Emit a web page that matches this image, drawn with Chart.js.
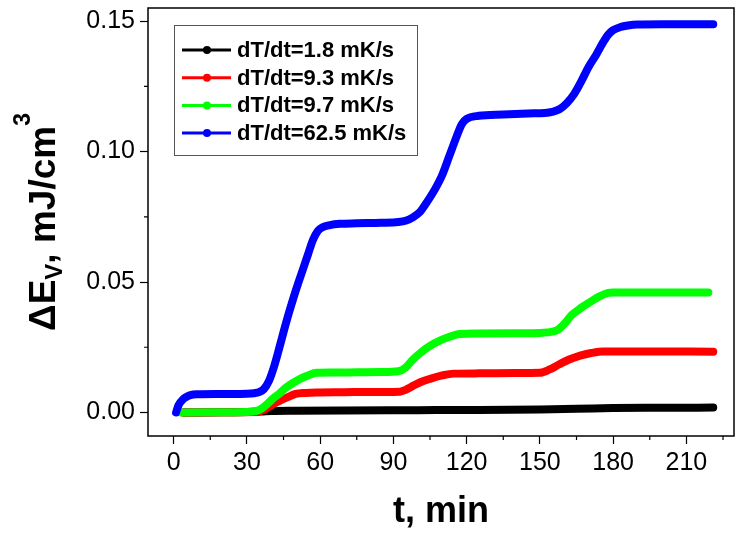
<!DOCTYPE html>
<html><head><meta charset="utf-8">
<script src="https://cdn.jsdelivr.net/npm/chart.js@4.4.1/dist/chart.umd.min.js"></script>
<style>html,body{margin:0;padding:0;background:#fff;}#wrap{width:744px;height:534px;}</style>
</head><body><div id="wrap"><canvas id="c" width="744" height="534"></canvas></div>
<script>
// ---- data ----
const seriesLabels = ["dT/dt=1.8 mK/s", "dT/dt=9.3 mK/s", "dT/dt=9.7 mK/s", "dT/dt=62.5 mK/s"];
const seriesColors = ["#000000", "#ff0000", "#00ff00", "#0000ff"];

const blackTime  = [4, 20, 30, 36, 40, 50, 70, 100, 125, 150, 165, 180, 200, 221];
const blackValue = [0, 0.0001, 0.0002, 0.0004, 0.0006, 0.0007, 0.0008, 0.0009, 0.001, 0.0012, 0.0014, 0.0017, 0.0018, 0.0019];

const redTime  = [4, 20, 34, 37, 40, 43.5, 47, 50, 54, 58.6, 70, 85, 92.7, 95, 98, 101, 105, 110, 114.6, 125, 140, 150, 154, 158, 162, 166.5, 171, 176, 190, 221];
const redValue = [0, 0.0001, 0.0002, 0.001, 0.0028, 0.0045, 0.006, 0.0071, 0.0075, 0.0077, 0.0078, 0.0079, 0.008, 0.0087, 0.0102, 0.0116, 0.0129, 0.0142, 0.0149, 0.015, 0.0151, 0.0152, 0.0165, 0.0185, 0.0203, 0.0218, 0.0228, 0.0234, 0.0234, 0.0233];

const greenTime  = [3, 15, 30, 34, 36, 38, 40.6, 43, 46, 49, 52, 55, 58.6, 65, 75, 85, 92, 95, 98, 101, 105, 109, 113, 117, 125, 140, 150, 153, 157, 160, 163, 166, 170, 174, 178, 180, 190, 219];
const greenValue = [0, 0.0001, 0.0002, 0.0006, 0.0015, 0.003, 0.0053, 0.007, 0.0095, 0.0114, 0.013, 0.0142, 0.0152, 0.0153, 0.0154, 0.0155, 0.0158, 0.0172, 0.0203, 0.0228, 0.0255, 0.0275, 0.029, 0.0301, 0.0303, 0.0304, 0.0305, 0.0307, 0.0315, 0.034, 0.0373, 0.0395, 0.042, 0.0443, 0.0458, 0.046, 0.046, 0.046];

const blueTime  = [1, 2, 4, 6, 8, 10, 20, 30, 33, 35, 37, 39, 41, 43, 45, 47, 49, 51, 53, 55, 57, 59, 61, 64, 68, 75, 85, 92, 95, 98, 101, 104, 107, 110, 113, 116, 118, 120, 125, 135, 145, 152, 155, 158, 161, 164, 167, 170, 173, 176, 178, 180, 183, 186, 190, 200, 221];
const blueValue = [0, 0.0028, 0.0052, 0.0064, 0.0069, 0.007, 0.0071, 0.0072, 0.0074, 0.0078, 0.009, 0.012, 0.0172, 0.0238, 0.0308, 0.0375, 0.0437, 0.0495, 0.055, 0.0605, 0.066, 0.0695, 0.071, 0.0718, 0.0723, 0.0725, 0.0727, 0.073, 0.0735, 0.0748, 0.077, 0.081, 0.0855, 0.091, 0.0985, 0.106, 0.1105, 0.1125, 0.1137, 0.1142, 0.1146, 0.1148, 0.1152, 0.1162, 0.1185, 0.122, 0.127, 0.1325, 0.137, 0.142, 0.1448, 0.1465, 0.1477, 0.1483, 0.1487, 0.1488, 0.1488];

const xTickValues = [0, 30, 60, 90, 120, 150, 180, 210];
const xMinorTickValues = [15, 45, 75, 105, 135, 165, 195, 225];
const yTickValues = [0, 0.05, 0.10, 0.15];
const yMinorTickValues = [0.025, 0.075, 0.125];
const xTitle = "t, min";

// ---- chart ----
const FONT = "'Liberation Sans', Arial, sans-serif";
const seriesTimes = [blackTime, redTime, greenTime, blueTime];
const seriesValues = [blackValue, redValue, greenValue, blueValue];

const datasets = seriesLabels.map((lab, i) => ({
  label: lab,
  data: seriesTimes[i].map((t, j) => ({x: t, y: seriesValues[i][j]})),
  borderColor: seriesColors[i],
  backgroundColor: seriesColors[i],
  borderWidth: 8,
  pointRadius: 0,
  fill: false,
  cubicInterpolationMode: 'monotone',
  borderCapStyle: 'round',
  borderJoinStyle: 'round',
  order: seriesLabels.length - i
}));

const decorPlugin = {
  id: 'decor',
  afterDraw(chart) {
    const ctx = chart.ctx, a = chart.chartArea;
    const xs = chart.scales.x, ys = chart.scales.y;
    ctx.save();
    // frame
    ctx.strokeStyle = '#000'; ctx.lineWidth = 1.5;
    ctx.strokeRect(a.left, a.top, a.right - a.left, a.bottom - a.top);
    // minor ticks
    ctx.lineWidth = 1.2;
    ctx.beginPath();
    xMinorTickValues.forEach(v => { const p = xs.getPixelForValue(v); if (p <= a.right) { ctx.moveTo(p, a.bottom); ctx.lineTo(p, a.bottom + 4); } });
    yMinorTickValues.forEach(v => { const p = ys.getPixelForValue(v); ctx.moveTo(a.left, p); ctx.lineTo(a.left - 4, p); });
    ctx.stroke();
    // legend
    const lx = 174, ly = 25, lw = 243, lh = 130;
    ctx.strokeStyle = '#555'; ctx.lineWidth = 1;
    ctx.strokeRect(lx + 0.5, ly + 0.5, lw, lh);
    ctx.font = "bold 22px " + FONT;
    ctx.textBaseline = 'middle'; ctx.textAlign = 'left';
    chart.data.datasets.forEach((ds, i) => {
      const y = 50 + i * 27.7;
      ctx.strokeStyle = ds.borderColor; ctx.lineWidth = 3;
      ctx.beginPath(); ctx.moveTo(182, y); ctx.lineTo(231, y); ctx.stroke();
      ctx.fillStyle = ds.borderColor;
      ctx.beginPath(); ctx.arc(207, y, 4, 0, Math.PI * 2); ctx.fill();
      ctx.fillStyle = '#000';
      ctx.fillText(ds.label, 237, y + 1);
    });
    // x title
    ctx.font = "bold 36px " + FONT;
    ctx.textAlign = 'center'; ctx.textBaseline = 'middle';
    ctx.fillText(xTitle, (a.left + a.right) / 2, 512);
    // y title with subscript / superscript
    const parts = [
      {t: "\u0394E", size: 37, dy: 0},
      {t: "V", size: 24, dy: 7},
      {t: ", mJ/cm", size: 37, dy: 0},
      {t: "3", size: 23, dy: -25}
    ];
    let total = 0;
    parts.forEach(p => { ctx.font = "bold " + p.size + "px " + FONT; p.w = ctx.measureText(p.t).width; total += p.w; });
    ctx.translate(55, (a.top + a.bottom) / 2);
    ctx.rotate(-Math.PI / 2);
    ctx.textAlign = 'left'; ctx.textBaseline = 'alphabetic';
    let cx = -total / 2;
    parts.forEach(p => { ctx.font = "bold " + p.size + "px " + FONT; ctx.fillText(p.t, cx, p.dy); cx += p.w; });
    ctx.restore();
  }
};

new Chart(document.getElementById('c'), {
  type: 'line',
  data: { datasets },
  options: {
    responsive: false,
    devicePixelRatio: 1,
    animation: false,
    layout: { padding: { top: 8, right: 10, left: 0, bottom: 0 } },
    plugins: { legend: { display: false }, tooltip: { enabled: false } },
    scales: {
      x: {
        type: 'linear', min: -10.5, max: 229.5,
        afterBuildTicks: s => { s.ticks = xTickValues.map(v => ({value: v})); },
        afterFit: s => { s.height = 98; s.paddingLeft = 0; s.paddingRight = 0; },
        ticks: { callback: v => String(v), font: { family: FONT, size: 25 }, color: '#000', padding: 4, maxRotation: 0, autoSkip: false },
        grid: { drawOnChartArea: false, drawTicks: true, tickLength: 8, tickColor: '#000', tickWidth: 1.2 },
        border: { display: false }
      },
      y: {
        type: 'linear', min: -0.009, max: 0.155,
        afterBuildTicks: s => { s.ticks = yTickValues.map(v => ({value: v})); },
        afterFit: s => { s.width = 148; s.paddingTop = 0; s.paddingBottom = 0; },
        ticks: { callback: v => Number(v).toFixed(2), font: { family: FONT, size: 25 }, color: '#000', padding: 5, autoSkip: false },
        grid: { drawOnChartArea: false, drawTicks: true, tickLength: 8, tickColor: '#000', tickWidth: 1.2 },
        border: { display: false }
      }
    }
  },
  plugins: [decorPlugin]
});
</script>
</body></html>
